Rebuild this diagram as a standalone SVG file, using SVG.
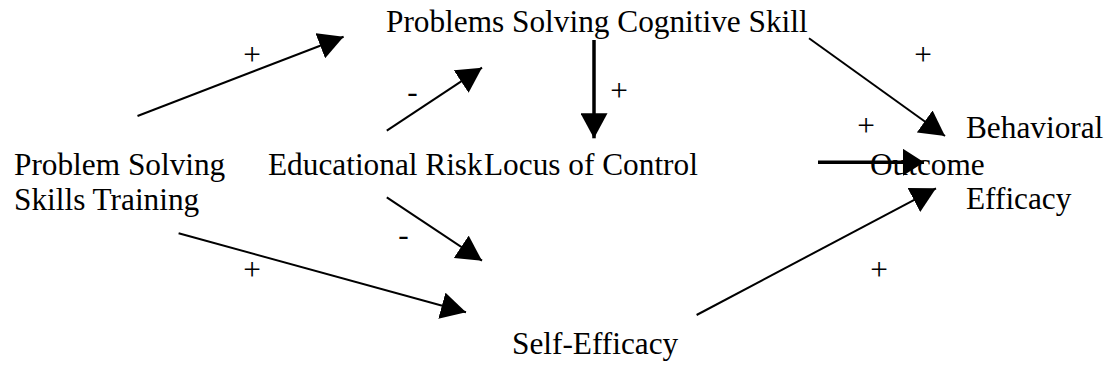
<svg xmlns="http://www.w3.org/2000/svg" width="1112" height="371" viewBox="0 0 1112 371">
<style>
text{font-family:"Liberation Serif","Times New Roman",serif;font-size:31.3px;fill:#000}
.sign{text-anchor:middle}
.thin{stroke:#000;stroke-width:2;fill:none;marker-end:url(#ah)}
.thick{stroke:#000;stroke-width:3.5;fill:none;marker-end:url(#ah)}
.thickh{stroke:#000;stroke-width:3.5;fill:none;marker-end:url(#ahs)}
</style>
<defs>
<marker id="ah" viewBox="0 0 25 27" markerWidth="25" markerHeight="27" refX="25" refY="13.5" orient="auto" markerUnits="userSpaceOnUse">
<path d="M0,0 L25,13.5 L0,27 z" fill="#000"/>
</marker>
<marker id="ahs" viewBox="0 0 21 27" markerWidth="21" markerHeight="27" refX="21" refY="13.5" orient="auto" markerUnits="userSpaceOnUse">
<path d="M0,0 L21,13.5 L0,27 z" fill="#000"/>
</marker>
</defs>
<rect width="1112" height="371" fill="#fff"/>
<g id="connectors">
<line class="thin" x1="137.5" y1="116" x2="343.6" y2="36.7"/>
<line class="thin" x1="386.8" y1="130.7" x2="482" y2="67.7"/>
<line class="thick" x1="594" y1="40" x2="594" y2="138.3"/>
<line class="thin" x1="809" y1="38.3" x2="945" y2="136"/>
<line class="thickh" x1="818" y1="162.3" x2="924" y2="162.3"/>
<line class="thin" x1="386.8" y1="197.3" x2="482" y2="260.7"/>
<line class="thin" x1="178.6" y1="233.3" x2="466" y2="312.3"/>
<line class="thin" x1="696.6" y1="315" x2="936" y2="188.3"/>
</g>
<g id="labels">
<text class="sign" x="252" y="64.5">+</text>
<text class="sign" x="412.5" y="102">-</text>
<text class="sign" x="619" y="101">+</text>
<text class="sign" x="923" y="64.5">+</text>
<text class="sign" x="866" y="135.5">+</text>
<text class="sign" x="403.5" y="245">-</text>
<text class="sign" x="252" y="279.5">+</text>
<text class="sign" x="879" y="279.5">+</text>
</g>
<g id="node-cognitive"><text x="386" y="32">Problems Solving Cognitive Skill</text></g>
<g id="node-training"><text x="14" y="175">Problem Solving</text><text x="14" y="210">Skills Training</text></g>
<g id="node-risk"><text x="268" y="175">Educational Risk</text></g>
<g id="node-locus"><text x="484" y="175">Locus of Control</text></g>
<g id="node-outcome"><text x="966" y="138">Behavioral</text><text x="870" y="175">Outcome</text><text x="966" y="209">Efficacy</text></g>
<g id="node-self"><text x="512" y="354">Self-Efficacy</text></g>
</svg>
